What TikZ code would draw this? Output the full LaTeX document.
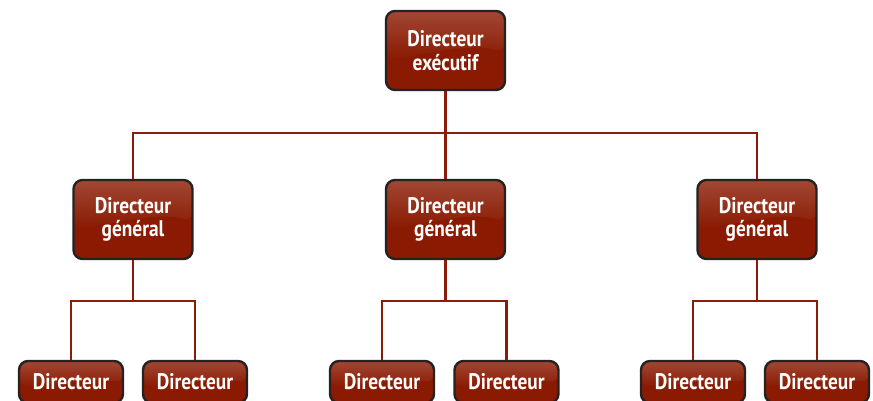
\documentclass[tikz,border=0pt]{standalone}
\usepackage{fontspec}
\setmainfont{PT Sans}[FakeStretch=0.86]
\usetikzlibrary{calc}
\definecolor{boxfill}{HTML}{8A1A02}
\definecolor{boxborder}{HTML}{262222}
\definecolor{linec}{HTML}{8B1D08}
\tikzset{
  gloss/.style={path picture={
    \coordinate (A) at (path picture bounding box.north west);
    \coordinate (B) at (path picture bounding box.north east);
    \coordinate (C) at (path picture bounding box.south east);
    \coordinate (D) at (path picture bounding box.south west);
    \shade[opacity=0.2, fill opacity=0.2,
      top color=white, bottom color=boxfill] (A) -- (B) -- ($(B)!0.52!(C)$)
      .. controls ($($(A)!0.7!(B)$)!0.40!($(D)!0.7!(C)$)$) and ($($(A)!0.35!(B)$)!0.55!($(D)!0.35!(C)$)$)
      .. ($(A)!0.62!(D)$) -- cycle;
  }},
  orgbox/.style={gloss, rounded corners=9pt, draw=boxborder, line width=2.4pt,
    fill=boxfill, text=white, align=center, inner sep=0pt,
    font=\bfseries\fontsize{22.5}{23.5}\selectfont},
  bigbox/.style={orgbox, minimum width=119pt, minimum height=79pt},
  smallbox/.style={orgbox, minimum width=104pt, minimum height=42pt},
  conn/.style={draw=linec, line width=2.4pt}
}
\begin{document}
\begin{tikzpicture}[x=1pt,y=-1pt]
\useasboundingbox (0,0) rectangle (873,401);
\clip (0,0) rectangle (873,401);
\node[bigbox] (top) at (445.5,50.5) {Directeur\\exécutif};
\node[bigbox] (m1) at (133,219.5) {Directeur\\général};
\node[bigbox] (m2) at (445.5,219.5) {Directeur\\général};
\node[bigbox] (m3) at (757,219.5) {Directeur\\général};
\node[smallbox] (l1) at (71,382) {Directeur};
\node[smallbox] (l2) at (195,382) {Directeur};
\node[smallbox] (l3) at (382,382) {Directeur};
\node[smallbox] (l4) at (506.5,382) {Directeur};
\node[smallbox] (l5) at (693,382) {Directeur};
\node[smallbox] (l6) at (817,382) {Directeur};
\coordinate (b0) at (445.5,133);
\coordinate (b1) at (133,301);
\coordinate (b2) at (445.5,301);
\coordinate (b3) at (757,301);
\draw[conn] (top.south) -- (b0);
\draw[conn] (m1.north) |- (b0);
\draw[conn] (m3.north) |- (b0);
\draw[conn] (m2.north) -- (b0);
\draw[conn] (m1.south) -- (b1);
\draw[conn] (l1.north) |- (b1);
\draw[conn] (l2.north) |- (b1);
\draw[conn] (m2.south) -- (b2);
\draw[conn] (l3.north) |- (b2);
\draw[conn] (l4.north) |- (b2);
\draw[conn] (m3.south) -- (b3);
\draw[conn] (l5.north) |- (b3);
\draw[conn] (l6.north) |- (b3);
\end{tikzpicture}
\end{document}
